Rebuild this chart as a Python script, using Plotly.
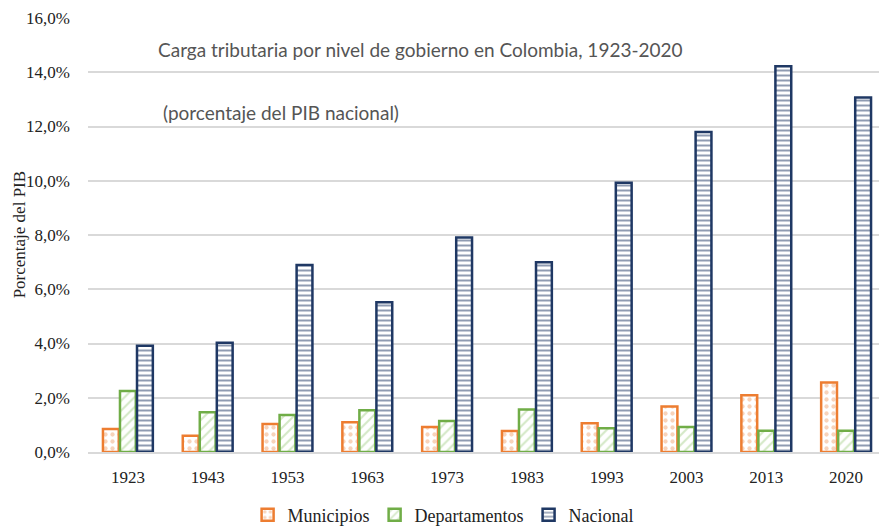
import plotly.graph_objects as go

years = ["1923", "1943", "1953", "1963", "1973", "1983", "1993", "2003", "2013", "2020"]
municipios = [0.85, 0.6, 1.03, 1.1, 0.92, 0.77, 1.06, 1.68, 2.09, 2.56]
departamentos = [2.25, 1.47, 1.36, 1.54, 1.14, 1.57, 0.88, 0.92, 0.78, 0.78]
nacional = [3.92, 4.03, 6.89, 5.52, 7.91, 7.0, 9.93, 11.8, 14.22, 13.07]
y_ticks = [0, 2, 4, 6, 8, 10, 12, 14, 16]
y_ticklabels = ["0,0%", "2,0%", "4,0%", "6,0%", "8,0%", "10,0%", "12,0%", "14,0%", "16,0%"]

fig = go.Figure()
fig.add_trace(go.Bar(
    x=years, y=municipios, name="Municipios",
    marker=dict(color="white", line=dict(color="#ED7D31", width=2.5),
                pattern=dict(shape=".", fgcolor="#F0A878", bgcolor="white", size=7, solidity=0.3)),
))
fig.add_trace(go.Bar(
    x=years, y=departamentos, name="Departamentos",
    marker=dict(color="white", line=dict(color="#70AD47", width=2.5),
                pattern=dict(shape="/", fgcolor="#A9D18E", bgcolor="white", size=7, solidity=0.3)),
))
fig.add_trace(go.Bar(
    x=years, y=nacional, name="Nacional",
    marker=dict(color="white", line=dict(color="#1F3864", width=2.5),
                pattern=dict(shape="-", fgcolor="#1F3864", bgcolor="white", size=5, solidity=0.4)),
))

# the page body adds an 8px margin, so the figure is 8px smaller than the window
fig.update_layout(
    width=879, height=521,
    margin=dict(l=80, r=1, t=10, b=77),
    paper_bgcolor="white", plot_bgcolor="white",
    barmode="group", bargap=0.36, bargroupgap=0.07,
    font=dict(family="Liberation Serif, Times New Roman, serif", size=17, color="#222"),
    legend=dict(orientation="h", xref="container", x=0.495, xanchor="center",
                yref="container", y=0.027, yanchor="middle",
                font=dict(size=18, color="#222"), traceorder="normal", itemwidth=30),
    yaxis=dict(range=[0, 16], tickmode="array", tickvals=y_ticks, ticktext=y_ticklabels,
               automargin=False, ticklabeloverflow="allow",
               showgrid=True, gridcolor="#D9D9D9", gridwidth=1.5, zeroline=False,
               showline=False, ticks="", ticklabelstandoff=17),
    xaxis=dict(showgrid=False, showline=True, linecolor="#D9D9D9", linewidth=1.5, ticks="",
               ticklabelstandoff=9, automargin=False),
    annotations=[
        dict(text="Porcentaje del PIB", textangle=-90,
             xref="paper", yref="paper", x=-0.086, y=0.5, xanchor="center", yanchor="middle",
             showarrow=False, font=dict(size=17, color="#222")),
        dict(text="Carga tributaria por nivel de gobierno en Colombia, 1923-2020",
             xref="paper", yref="paper", x=0.085, y=0.927, xanchor="left", yanchor="middle",
             showarrow=False, font=dict(family="Lato, Open Sans, sans-serif", size=19, color="#555")),
        dict(text="(porcentaje del PIB nacional)",
             xref="paper", yref="paper", x=0.092, y=0.783, xanchor="left", yanchor="middle",
             showarrow=False, font=dict(family="Lato, Open Sans, sans-serif", size=19, color="#555")),
    ],
)

fig.write_html("out.html")
